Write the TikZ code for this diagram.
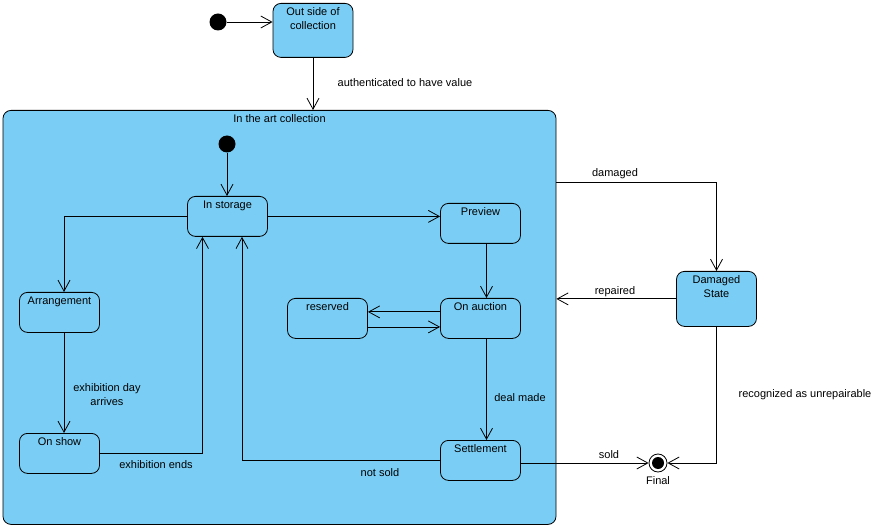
\documentclass[tikz,border=0pt]{standalone}
\usepackage{fontspec}
\setmainfont{Liberation Sans}
\usetikzlibrary{arrows.meta}
\definecolor{stateblue}{RGB}{122,206,245}

\begin{document}
\begin{tikzpicture}[x=1pt, y=-1pt, line width=0.8pt,
    font=\fontsize{11}{14}\selectfont,
    state/.style={draw, fill=stateblue, rounded corners=8pt, anchor=north,
        minimum width=80pt, inner xsep=0pt, inner ysep=2pt,
        text height=10pt, text depth=26pt, align=center},
    twoline/.style={text height=24pt},
    initial/.style={circle, fill=black, minimum size=17pt, inner sep=0pt},
    final/.style={circle, draw, fill=white, minimum size=18pt, inner sep=0pt,
        path picture={\fill[black] (path picture bounding box.center) circle (6pt);}},
    trans/.style={-{Straight Barb[length=11pt,width=12pt]}},
    lbl/.style={inner sep=0pt, align=center}]
    \useasboundingbox (0,0) rectangle (888,526);

    % Outer state: the art collection
    \node[state, minimum width=553pt, text depth=400pt] (art) at (279.5,110) {In the art collection};

    % Outside the collection
    \node[initial] (start) at (218,22) {};
    \node[state, twoline, text depth=26pt] (outside) at (313,3) {Out side of\\collection};
    \draw[trans] (start) -- (start -| outside.west);
    \draw[trans] (outside) -- (outside |- art.north);
    \node[lbl] (authlbl) at (405,83) {authenticated to have value};

    % Inner states
    \node[initial] (inistart) at (227,144) {};
    \node[state] (storage) at (227.5,196) {In storage};
    \node[state] (preview) at (480.5,203) {Preview};
    \node[state] (arrange) at (59.5,292) {Arrangement};
    \node[state] (show) at (59.5,433) {On show};
    \node[state] (reserved) at (327.5,298) {reserved};
    \node[state] (auction) at (480.5,298) {On auction};
    \node[state] (settle) at (480.5,440) {Settlement};

    % Inner transitions
    \draw[trans] (inistart) -- (inistart |- storage.north);
    \draw[trans] (storage.east) -- (storage.east -| preview.west);
    \draw[trans] (storage.west) -| ([xshift=4.5pt]arrange.north);
    \draw[trans] ([xshift=4.5pt]arrange.south) -- ([xshift=4.5pt]show.north);
    \node[lbl] (daylbl) at (107,394.5) {exhibition day\\arrives};
    \draw[trans] (show.east) -| ([xshift=-25pt]storage.south);
    \node[lbl] (endslbl) at (156,465) {exhibition ends};
    \draw[trans] ([xshift=6pt]preview.south) -- ([xshift=6pt]auction.north);
    \draw[trans] ([yshift=6.5pt]auction.west) -- ([yshift=6.5pt]reserved.east);
    \draw[trans] ([yshift=-8.5pt]reserved.east) -- ([yshift=-8.5pt]auction.west);
    \draw[trans] ([xshift=6pt]auction.south) -- ([xshift=6pt]settle.north);
    \node[lbl] (deallbl) at (520,398) {deal made};
    \draw[trans] (settle.west) -| ([xshift=14.5pt]storage.south);
    \node[lbl] (notsoldlbl) at (380,473) {not sold};

    % Damaged state and final state
    \node[state, twoline, text depth=27pt] (damaged) at (716.5,271) {Damaged\\State};
    \node[final] (final) at (658,463) {};
    \node[lbl] (finallbl) at (658,481) {Final};
    \draw[trans] (art.east |- 0,182) -| (damaged.north);
    \node[lbl] (damagedlbl) at (615,174) {damaged};
    \draw[trans] (damaged.west) -- (damaged.west -| art.east);
    \node[lbl] (repairedlbl) at (615,292) {repaired};
    \draw[trans] (damaged.south) |- (final);
    \node[lbl] (unreplbl) at (805,395) {recognized as unrepairable};
    \draw[trans] (final -| settle.east) -- (final);
    \node[lbl] (soldlbl) at (609,455) {sold};
\end{tikzpicture}
\end{document}
